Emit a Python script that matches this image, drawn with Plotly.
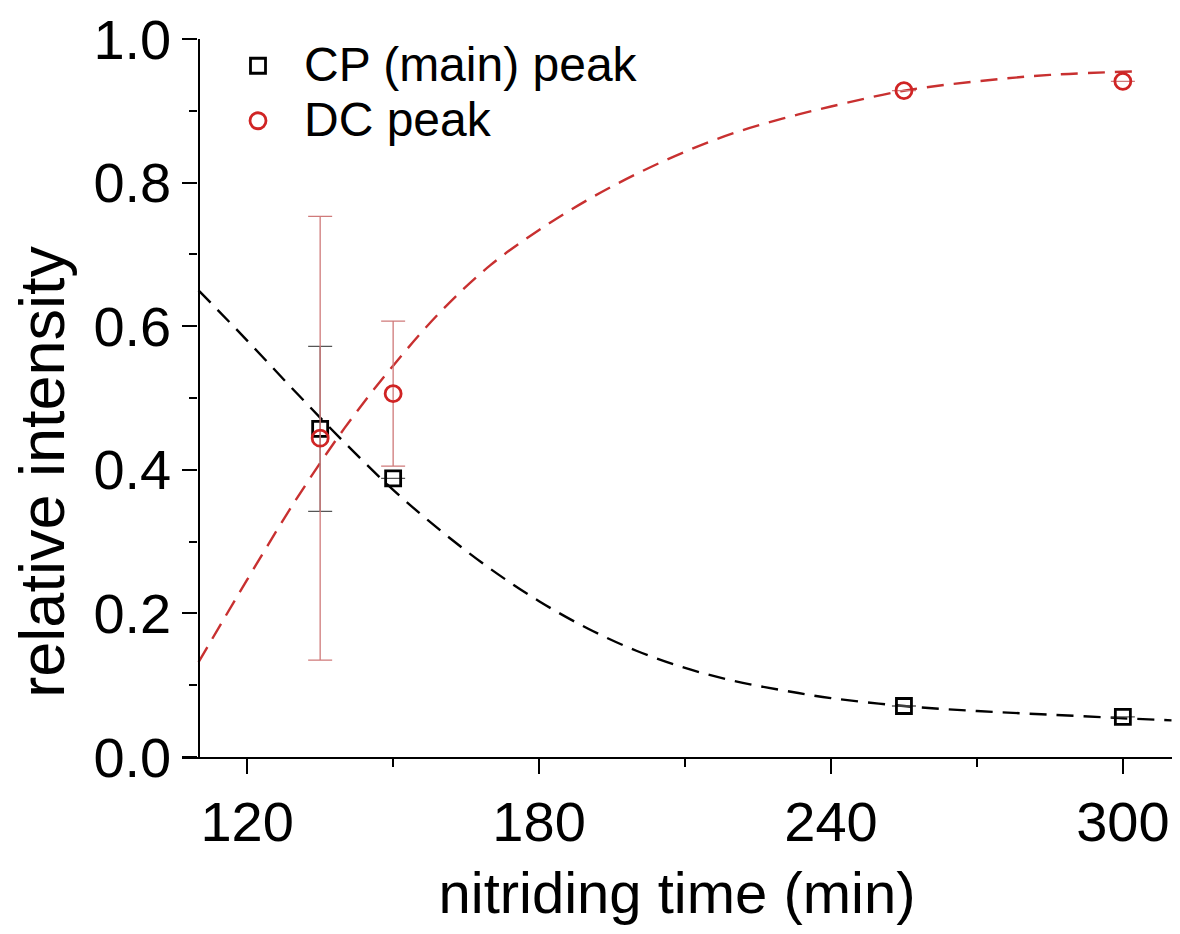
import plotly.graph_objects as go

# Measured relative peak intensities vs nitriding time
time_min = [135, 150, 255, 300]
cp_intensity = [0.457, 0.388, 0.071, 0.056]
cp_err = [0.115, None, None, None]
dc_intensity = [0.444, 0.506, 0.928, 0.941]
dc_err = [0.309, 0.101, None, None]

# Fitted trend curves (sampled)
cp_fit_t = [110, 120, 130, 140, 150, 160, 170, 180, 190, 200, 210, 220, 230,
            240, 255, 270, 285, 300, 310]
cp_fit_v = [0.650, 0.580, 0.508, 0.438, 0.372, 0.314, 0.262, 0.217, 0.179,
            0.148, 0.124, 0.106, 0.093, 0.082, 0.071, 0.064, 0.059, 0.054,
            0.051]
dc_fit_t = [110, 120, 130, 140, 150, 160, 170, 180, 190, 200, 210, 220, 230,
            240, 255, 270, 285, 303]
dc_fit_v = [0.132, 0.247, 0.358, 0.458, 0.545, 0.622, 0.685, 0.734, 0.776,
            0.812, 0.843, 0.869, 0.889, 0.906, 0.928, 0.941, 0.950, 0.955]

x_ticks = [120, 180, 240, 300]
y_ticks = [0.0, 0.2, 0.4, 0.6, 0.8, 1.0]
y_tick_text = ["0.0", "0.2", "0.4", "0.6", "0.8", "1.0"]

RED = "#d02424"
RED_LINE = "#c83030"
RED_ERR = "#cf7a7a"
FONT = "Liberation Sans, Arial, sans-serif"
LEGEND_TEXT = '<span style="font-size:48px">{}</span>'

x_range = [106.6, 310.1]
y_axis_pos = (110 - x_range[0]) / (x_range[1] - x_range[0])

fig = go.Figure()

fig.add_trace(go.Scatter(
    x=cp_fit_t, y=cp_fit_v, mode="lines", showlegend=False,
    line=dict(color="black", width=2.4, dash="17px,10px", shape="spline"),
    hoverinfo="skip"))
fig.add_trace(go.Scatter(
    x=dc_fit_t, y=dc_fit_v, mode="lines", showlegend=False,
    line=dict(color=RED_LINE, width=2.4, dash="17px,10px", shape="spline"),
    hoverinfo="skip"))

fig.add_trace(go.Scatter(
    x=time_min, y=cp_intensity, mode="markers",
    name=LEGEND_TEXT.format("CP (main) peak"),
    marker=dict(symbol="square-open", size=15, color="black",
                line=dict(width=2.8, color="black")),
    error_y=dict(type="data", array=cp_err, visible=True,
                 color="#555555", thickness=1.3, width=12)))
fig.add_trace(go.Scatter(
    x=time_min, y=dc_intensity, mode="markers",
    name=LEGEND_TEXT.format("DC peak"),
    marker=dict(symbol="circle-open", size=16, color=RED,
                line=dict(width=2.8, color=RED)),
    error_y=dict(type="data", array=dc_err, visible=True,
                 color=RED_ERR, thickness=1.3, width=12)))

fig.update_layout(
    width=1180, height=934,
    margin=dict(l=182, r=8, t=36, b=177),
    paper_bgcolor="white", plot_bgcolor="white",
    font=dict(family=FONT, color="black"),
    legend=dict(x=0.0303, y=1.008, xanchor="left", yanchor="top",
                font=dict(size=40, family=FONT), bgcolor="rgba(0,0,0,0)",
                itemwidth=82, tracegroupgap=0),
    annotations=[dict(
        text="relative intensity", textangle=-90,
        xref="paper", yref="paper", x=-0.141, y=0.398,
        xanchor="center", yanchor="middle", showarrow=False,
        font=dict(size=63, family=FONT, color="black"))],
)

fig.update_xaxes(
    range=x_range, tickvals=x_ticks, ticktext=[str(v) for v in x_ticks],
    showline=True, linecolor="black", linewidth=2.2, mirror=False,
    showgrid=False, zeroline=False,
    ticks="outside", ticklen=15, tickwidth=2, tickcolor="black",
    tickfont=dict(size=56, family=FONT),
    minor=dict(dtick=30, tick0=0, ticks="outside", ticklen=8, tickwidth=2,
               tickcolor="black"),
    title=dict(text="nitriding time (min)", font=dict(size=58, family=FONT),
               standoff=20),
)

fig.update_yaxes(
    range=[0, 1], tickvals=y_ticks, ticktext=y_tick_text,
    anchor="free", position=y_axis_pos,
    showline=True, linecolor="black", linewidth=2.2,
    showgrid=False, zeroline=False,
    ticks="outside", ticklen=15, tickwidth=2, tickcolor="black",
    tickfont=dict(size=56, family=FONT),
    minor=dict(dtick=0.1, ticks="outside", ticklen=8, tickwidth=2,
               tickcolor="black"),
)

fig.write_html("out.html")
